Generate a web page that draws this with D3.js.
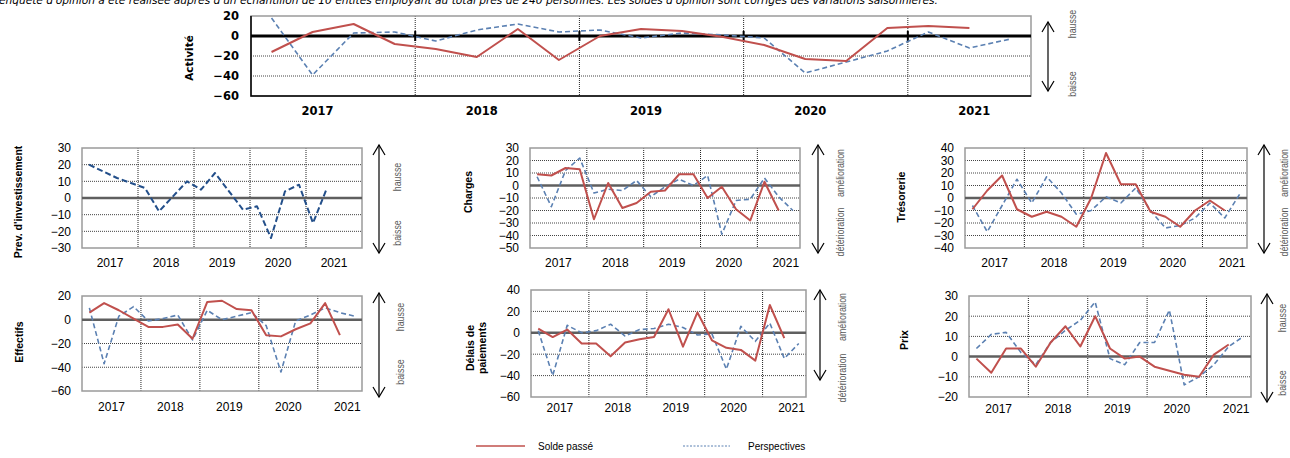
<!DOCTYPE html>
<html lang="fr">
<head>
<meta charset="UTF-8">
<script src="https://cdnjs.cloudflare.com/ajax/libs/d3/7.8.5/d3.min.js"></script>
<style>
    body { margin: 0; background: #fff; }
    svg { display: block; }
</style>
<title>Enquête d'opinion</title>
</head>
<body>
<div id="chart"></div>
<script>
// categories : trimestres 2017 T1 .. 2021 T4
var years = ['2017', '2018', '2019', '2020', '2021'];
var quarters = ['T1', 'T2', 'T3', 'T4'];

// soldes d'opinion (solde passé / perspectives)
var activitePasse  = [-16, 4, 12, -8, -13, -21, 7, -24, 0, 7, 5, -1, -9, -23, -25, 8, 10, 8];
var activitePersp  = [18, -39, 3, 4, -5, 6, 12, 4, 6, -2, 3, 1, -2, -37, -26, -15, 4, -12, -3];
var investPersp    = [20, 16, 12, 9, 6, -8, 1, 10, 5, 15, 4, -7, -5, -24, 4, 8, -15, 6];
var chargesPasse   = [9, 8, 14, 13, -27, 2, -18, -14, -5, -4, 9, 9, -10, -1, -19, -28, 3, -20];
var chargesPersp   = [7, -17, 12, 22, -6, -3, -4, 4, -9, -1, 5, 0, 8, -39, -12, -11, 6, -9, -20];
var tresoPasse     = [-9, 6, 18, -9, -15, -11, -15, -23, 0, 36, 11, 11, -11, -15, -23, -10, -2, -10];
var tresoPersp     = [-6, -27, -6, 15, -4, 17, 4, -13, -10, 1, -4, 8, -10, -24, -22, -16, -4, -16, 3];
var effectifsPasse = [6, 14, 8, 1, -6, -6, -4, -16, 15, 16, 9, 8, -13, -14, -8, -3, 14, -13];
var effectifsPersp = [10, -37, 3, 11, -1, 1, 4, -17, 8, 0, 3, 6, -5, -44, -1, 4, 10, 6, 3];
var delaisPasse    = [4, -4, 3, -10, -10, -22, -9, -6, -4, 22, -13, 19, -7, -14, -16, -26, 26, -5];
var delaisPersp    = [2, -40, 7, 0, 2, 8, -3, 3, 4, 8, 5, -2, -1, -34, 6, -8, 9, -24, -10];
var prixPasse      = [-1, -8, 4, 4, -5, 7, 15, 5, 20, 4, -1, 0, -5, -7, -9, -10, 1, 6];
var prixPersp      = [4, 11, 12, 2, -4, 7, 13, 18, 27, -1, -4, 7, 7, 23, -14, -10, -4, 5, 10];

var legendLabels = ['Solde passé', 'Perspectives'];

var cats20 = [];
years.forEach(function (y) {
    quarters.forEach(function (q) { cats20.push(q + ' ' + y); });
});
var cats19 = cats20.slice(0, 19);

var RED = '#c0504d', BLUE = '#5b80b2', NAVY = '#234f8a';
var SANS = '"Liberation Sans", Arial, sans-serif';
var VERD = '"DejaVu Sans", Verdana, sans-serif';

var width = 1290, height = 458;

var svg = d3.select('#chart').append('svg')
    .attr('width', width)
    .attr('height', height);

svg.append('text')
    .attr('x', -1)
    .attr('y', 3.5)
    .attr('font-family', VERD)
    .attr('font-style', 'italic')
    .attr('font-size', '10.6px')
    .text("enquête d'opinion a été réalisée auprès d'un échantillon de 10 entités employant au total près de 240 personnes. Les soldes d'opinion sont corrigés des variations saisonnières.");

function drawArrow(a) {
    var g = svg.append('g').attr('stroke', '#000').attr('fill', 'none').attr('stroke-width', 1.2);
    g.append('line').attr('x1', a.x).attr('x2', a.x).attr('y1', a.y1).attr('y2', a.y2);
    g.append('polyline').attr('points', [[a.x - 6, a.y1 + 10], [a.x, a.y1], [a.x + 6, a.y1 + 10]].join(' '));
    g.append('polyline').attr('points', [[a.x - 6, a.y2 - 10], [a.x, a.y2], [a.x + 6, a.y2 - 10]].join(' '));

    // texte étroit : police normale comprimée dans le sens de la lecture
    [[a.up, a.upY], [a.down, a.downY]].forEach(function (t) {
        svg.append('text')
            .attr('transform', 'translate(' + a.tx + ',' + t[1] + ') rotate(-90) scale(0.8,1)')
            .attr('text-anchor', 'middle')
            .attr('font-family', SANS)
            .attr('font-size', '11px')
            .attr('fill', '#595959')
            .text(t[0]);
    });
}

function drawPanel(p) {
    var x = d3.scaleBand().domain(p.cats).range([p.left, p.right]);
    var y = d3.scaleLinear().domain(p.domain).range([p.bottom, p.top]);
    var bw = x.bandwidth();
    var ticks = d3.range(p.domain[0], p.domain[1] + p.step / 2, p.step);
    var g = svg.append('g');

    g.append('rect')
        .attr('x', p.left).attr('y', p.top)
        .attr('width', p.right - p.left).attr('height', p.bottom - p.top)
        .attr('fill', '#fff');

    // grille horizontale
    g.selectAll('.hgrid')
        .data(ticks.filter(function (t) { return t !== 0 && t !== p.domain[0] && t !== p.domain[1]; }))
        .enter().append('line')
        .attr('x1', p.left).attr('x2', p.right)
        .attr('y1', function (d) { return y(d); })
        .attr('y2', function (d) { return y(d); })
        .attr('stroke', '#444')
        .attr('stroke-width', 1)
        .attr('stroke-dasharray', '1,1');

    // séparateurs d'années
    var divs = p.cats.filter(function (c, i) { return i > 0 && i % 4 === 0; });
    g.selectAll('.vgrid')
        .data(divs)
        .enter().append('line')
        .attr('x1', function (d) { return x(d); })
        .attr('x2', function (d) { return x(d); })
        .attr('y1', p.top).attr('y2', p.bottom)
        .attr('stroke', '#222')
        .attr('stroke-width', 1)
        .attr('stroke-dasharray', '1,1');

    g.append('rect')
        .attr('x', p.left).attr('y', p.top)
        .attr('width', p.right - p.left).attr('height', p.bottom - p.top)
        .attr('fill', 'none')
        .attr('stroke', '#9a9a9a')
        .attr('stroke-width', 1.5);

    if (p.big) {
        g.append('path')
            .attr('d', 'M' + p.left + ',' + p.top + 'V' + p.bottom + 'H' + p.right)
            .attr('fill', 'none')
            .attr('stroke', '#000')
            .attr('stroke-width', 1.5);
    }

    // ligne du zéro
    g.append('line')
        .attr('x1', p.left).attr('x2', p.right)
        .attr('y1', y(0)).attr('y2', y(0))
        .attr('stroke', p.big ? '#000' : '#5f5f5f')
        .attr('stroke-width', p.big ? 3 : 2.5);

    if (p.big) {
        g.selectAll('.tick0')
            .data(divs)
            .enter().append('line')
            .attr('x1', function (d) { return x(d); })
            .attr('x2', function (d) { return x(d); })
            .attr('y1', y(0) - 5).attr('y2', y(0) + 5)
            .attr('stroke', '#000')
            .attr('stroke-width', 2);
    }

    // axe des ordonnées
    var yAxis = g.append('g')
        .attr('transform', 'translate(' + p.left + ',0)')
        .call(d3.axisLeft(y).tickValues(ticks).tickSize(0).tickPadding(p.big ? 12 : 11));
    yAxis.select('.domain').remove();
    yAxis.selectAll('text')
        .attr('fill', '#000')
        .attr('font-family', p.big ? VERD : SANS)
        .attr('font-weight', p.big ? 'bold' : 'normal')
        .attr('font-size', p.big ? '11.5px' : '12px');

    // années
    g.selectAll('.year')
        .data(years)
        .enter().append('text')
        .attr('x', function (d, i) { return x(p.cats[4 * i]) + bw * p.yearOff; })
        .attr('y', p.yearY)
        .attr('text-anchor', 'middle')
        .attr('font-family', p.big ? VERD : SANS)
        .attr('font-weight', p.big ? 'bold' : 'normal')
        .attr('font-size', p.big ? '11.5px' : '12px')
        .text(function (d) { return d; });

    // séries
    var line = d3.line()
        .x(function (d, i) { return x(p.cats[i]) + bw / 2; })
        .y(function (d) { return y(d); });

    p.series.forEach(function (s) {
        g.append('path')
            .datum(s.values)
            .attr('d', line)
            .attr('fill', 'none')
            .attr('stroke', s.color)
            .attr('stroke-width', s.width)
            .attr('stroke-dasharray', s.dash || null)
            .attr('stroke-linejoin', 'round');
    });

    // titre vertical
    var t = svg.append('text')
        .attr('transform', 'translate(' + p.titleX + ',' + p.titleY + ') rotate(-90)')
        .attr('text-anchor', 'middle')
        .attr('font-family', p.big ? VERD : SANS)
        .attr('font-weight', 'bold')
        .attr('font-size', '10.5px');
    p.title.forEach(function (line, i) {
        t.append('tspan').attr('x', 0).attr('y', 4 + i * 12).text(line);
    });

    drawArrow(p.arrow);
}

var passe = function (v) { return { values: v, color: RED, width: 2 }; };
var persp = function (v) { return { values: v, color: BLUE, width: 1.6, dash: '5,3' }; };

drawPanel({
    big: true, cats: cats19, left: 251, right: 1031, top: 16, bottom: 96,
    domain: [-60, 20], step: 20, yearOff: 1.62, yearY: 115,
    series: [persp(activitePersp), passe(activitePasse)],
    title: ['Activité'], titleX: 189, titleY: 58,
    arrow: { x: 1048, y1: 22, y2: 91, tx: 1076, up: 'hausse', upY: 24, down: 'baisse', downY: 84 }
});

drawPanel({
    cats: cats20, left: 82, right: 362, top: 148, bottom: 248,
    domain: [-30, 30], step: 10, yearOff: 2, yearY: 267,
    series: [{ values: investPersp, color: NAVY, width: 2, dash: '6,3' }],
    title: ["Prev. d'investissement"], titleX: 18, titleY: 202,
    arrow: { x: 379, y1: 145, y2: 253, tx: 401, up: 'hausse', upY: 177, down: 'baisse', downY: 233 }
});

drawPanel({
    cats: cats19, left: 530, right: 800, top: 148, bottom: 248,
    domain: [-50, 30], step: 10, yearOff: 2, yearY: 267,
    series: [persp(chargesPersp), passe(chargesPasse)],
    title: ['Charges'], titleX: 468, titleY: 192,
    arrow: { x: 818, y1: 145, y2: 253, tx: 844, up: 'amélioration', upY: 173, down: 'détérioration', downY: 232 }
});

drawPanel({
    cats: cats19, left: 965, right: 1247, top: 148, bottom: 248,
    domain: [-40, 40], step: 10, yearOff: 2, yearY: 267,
    series: [persp(tresoPersp), passe(tresoPasse)],
    title: ['Trésorerie'], titleX: 901, titleY: 197,
    arrow: { x: 1264, y1: 145, y2: 253, tx: 1288, up: 'amélioration', upY: 173, down: 'détérioration', downY: 232 }
});

drawPanel({
    cats: cats19, left: 82, right: 362, top: 296, bottom: 391,
    domain: [-60, 20], step: 20, yearOff: 2, yearY: 411,
    series: [persp(effectifsPersp), passe(effectifsPasse)],
    title: ['Effectifs'], titleX: 19, titleY: 342,
    arrow: { x: 379, y1: 293, y2: 397, tx: 404, up: 'hausse', upY: 317, down: 'baisse', downY: 372 }
});

drawPanel({
    cats: cats19, left: 531, right: 806, top: 290, bottom: 397,
    domain: [-60, 40], step: 20, yearOff: 2, yearY: 412,
    series: [persp(delaisPersp), passe(delaisPasse)],
    title: ['Délais de', 'paiements'], titleX: 470, titleY: 348,
    arrow: { x: 820, y1: 290, y2: 380, tx: 846, up: 'amélioration', upY: 317, down: 'détérioration', downY: 378 }
});

drawPanel({
    cats: cats19, left: 969, right: 1251, top: 296, bottom: 397,
    domain: [-20, 30], step: 10, yearOff: 2, yearY: 413,
    series: [persp(prixPersp), passe(prixPasse)],
    title: ['Prix'], titleX: 904, titleY: 340,
    arrow: { x: 1267, y1: 294, y2: 402, tx: 1286, up: 'hausse', upY: 318, down: 'baisse', downY: 383 }
});

// légende
var legend = svg.append('g').attr('class', 'legend');
var legendItems = [
    { label: legendLabels[0], x1: 476, x2: 525, tx: 538, color: RED, width: 1.5, dash: null },
    { label: legendLabels[1], x1: 683, x2: 730, tx: 748, color: BLUE, width: 1, dash: '2,1.5' }
];
legendItems.forEach(function (d) {
    legend.append('line')
        .attr('x1', d.x1).attr('x2', d.x2)
        .attr('y1', 446).attr('y2', 446)
        .attr('stroke', d.color)
        .attr('stroke-width', d.width)
        .attr('stroke-dasharray', d.dash);
    legend.append('text')
        .attr('x', d.tx).attr('y', 450)
        .attr('font-family', SANS)
        .attr('font-size', '10px')
        .text(d.label);
});
</script>
</body>
</html>
